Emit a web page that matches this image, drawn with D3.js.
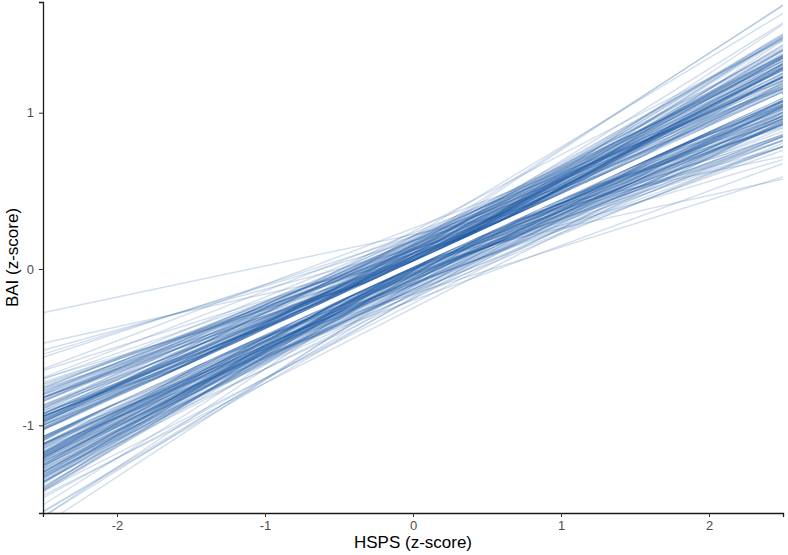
<!DOCTYPE html>
<html>
<head>
<meta charset="utf-8">
<script src="https://cdn.jsdelivr.net/npm/d3@7"></script>
<style>
  body { margin: 0; background: #fff; }
  text { font-family: "Liberation Sans", Arial, sans-serif; }
</style>
</head>
<body>
<div id="chart"></div>
<script>
// posterior draws: intercept and slope of each regression line
const intercepts = [
  0.03, 0.14, -0.07, 0.09, 0.00, -0.13, 0.18, 0.06, -0.04, 0.05,
  0.13, -0.09, 0.02, 0.21, -0.02, 0.08, -0.16, 0.04, 0.11, -0.05,
  -0.01, 0.16, 0.07, -0.10, 0.02, 0.19, -0.04, 0.10, 0.05, -0.19,
  0.08, 0.00, -0.11, 0.13, 0.03, -0.07, 0.26, 0.02, -0.03, 0.11,
  0.07, -0.14, 0.05, 0.15, -0.06, 0.01, 0.10, -0.22, 0.08, 0.02,
  -0.04, 0.18, 0.03, -0.10, 0.13, -0.01, 0.07, -0.09, 0.21, 0.05,
  0.00, -0.13, 0.10, 0.03, -0.03, 0.16, 0.08, -0.17, 0.02, 0.12,
  -0.07, 0.07, 0.24, -0.04, 0.03, 0.13, -0.12, 0.00, 0.08, 0.05,
  -0.06, 0.15, 0.02, -0.25, 0.10, 0.03, -0.01, 0.18, -0.09, 0.06,
  0.12, -0.03, 0.05, -0.15, 0.19, 0.01, 0.08, -0.06, 0.00, 0.13,
  -0.10, 0.05, 0.16, -0.01, -0.04, 0.10, 0.03, -0.20, 0.06, 0.12,
  0.01, -0.07, 0.15, 0.08, -0.13, 0.03, 0.22, -0.03, 0.05, 0.10,
  -0.08, 0.00, 0.13, 0.06, -0.16, 0.03, 0.18, -0.04, 0.08, -0.01,
  0.12, -0.11, 0.05, 0.21, 0.01, -0.06, 0.10, 0.06, -0.18, 0.00,
  0.15, 0.03, -0.10, 0.08, 0.04, 0.05, 0.01, 0.12, -0.03, 0.05,
  0.13, -0.09, 0.06, -0.02, 0.10, -0.05, 0.03, 0.16, -0.15, 0.14,
  0.05, -0.06, 0.12, 0.00, -0.10, 0.17, 0.02, 0.08, -0.03, 0.14,
  -0.13, 0.03, 0.07, -0.07, 0.18, -0.01, 0.10, -0.16, 0.05, 0.01,
  0.15, -0.04, 0.09, 0.23, -0.08, 0.03, 0.00, 0.12, -0.11, 0.06,
  0.02, 0.20, -0.05, 0.08, -0.01, -0.14, 0.14, 0.04, 0.17, -0.02,
  0.10, 0.03, -0.19, 0.06, 0.00, 0.15, -0.07, 0.09, 0.01, 0.21,
  -0.10, 0.12, 0.03, -0.04, 0.07, 0.18, -0.02, 0.10, -0.08, 0.05
];
const slopes = [
  0.39, 0.49, 0.44, 0.33, 0.52, 0.47, 0.41, 0.50, 0.36, 0.43,
  0.48, 0.35, 0.40, 0.57, 0.42, 0.46, 0.30, 0.45, 0.55, 0.38,
  0.60, 0.38, 0.41, 0.47, 0.32, 0.44, 0.53, 0.43, 0.37, 0.51,
  0.39, 0.40, 0.46, 0.26, 0.50, 0.42, 0.36, 0.54, 0.49, 0.45,
  0.44, 0.37, 0.58, 0.40, 0.52, 0.45, 0.34, 0.48, 0.56, 0.43,
  0.46, 0.29, 0.55, 0.41, 0.49, 0.38, 0.51, 0.42, 0.31, 0.47,
  0.37, 0.45, 0.59, 0.43, 0.35, 0.50, 0.48, 0.39, 0.53, 0.44,
  0.42, 0.40, 0.49, 0.54, 0.36, 0.44, 0.47, 0.28, 0.41, 0.52,
  0.43, 0.53, 0.33, 0.48, 0.45, 0.39, 0.63, 0.46, 0.34, 0.50,
  0.36, 0.46, 0.52, 0.40, 0.47, 0.31, 0.57, 0.44, 0.51, 0.38,
  0.37, 0.41, 0.61, 0.45, 0.39, 0.48, 0.49, 0.35, 0.42, 0.55,
  0.38, 0.42, 0.50, 0.43, 0.44, 0.56, 0.20, 0.34, 0.54, 0.47,
  0.48, 0.40, 0.49, 0.32, 0.45, 0.58, 0.41, 0.36, 0.46, 0.53,
  0.46, 0.59, 0.42, 0.39, 0.51, 0.47, 0.30, 0.43, 0.55, 0.37,
  0.43, 0.49, 0.38, 0.45, 0.50, 0.21, 0.41, 0.52, 0.44, 0.35,
  0.40, 0.62, 0.36, 0.44, 0.51, 0.39, 0.48, 0.42, 0.56, 0.62,
  0.41, 0.47, 0.38, 0.52, 0.44, 0.40, 0.55, 0.36, 0.46, 0.49,
  0.43, 0.34, 0.50, 0.45, 0.39, 0.53, 0.42, 0.48, 0.31, 0.57,
  0.44, 0.40, 0.51, 0.37, 0.46, 0.54, 0.42, 0.33, 0.49, 0.45,
  0.58, 0.41, 0.47, 0.39, 0.52, 0.43, 0.36, 0.50, 0.44, 0.48,
  0.35, 0.53, 0.45, 0.40, 0.56, 0.38, 0.47, 0.42, 0.51, 0.44,
  0.49, 0.37, 0.43, 0.55, 0.41, 0.46, 0.32, 0.50, 0.45, 0.39
];
// mean (fitted) line
const meanIntercept = 0.03;
const meanSlope = 0.433;

const xTicks = [-2, -1, 0, 1, 2];
const yTicks = [-1, 0, 1];
const xDomain = [-2.5, 2.5];

const width = 788, height = 555;
const margin = {top: 2, right: 5, bottom: 42, left: 43};

const svg = d3.select("#chart").append("svg")
    .attr("width", width)
    .attr("height", height);

const x = d3.scaleLinear()
    .domain(xDomain)
    .range([margin.left, width - margin.right]);

const y = d3.scaleLinear()
    .domain([-1.561, 1.708])
    .range([height - margin.bottom, margin.top]);

svg.append("clipPath")
    .attr("id", "clip")
    .append("rect")
    .attr("x", margin.left)
    .attr("y", margin.top)
    .attr("width", width - margin.left - margin.right)
    .attr("height", height - margin.top - margin.bottom);

const draws = intercepts.map((a, i) => ({a: a, b: slopes[i]}));

const plot = svg.append("g").attr("clip-path", "url(#clip)");

plot.selectAll("line.draw")
    .data(draws)
    .enter().append("line")
    .attr("class", "draw")
    .attr("x1", x(xDomain[0]))
    .attr("x2", x(xDomain[1]))
    .attr("y1", d => y(d.a + d.b * xDomain[0]))
    .attr("y2", d => y(d.a + d.b * xDomain[1]))
    .attr("stroke", "#1c58a4")
    .attr("stroke-opacity", 0.2)
    .attr("stroke-width", 1.4);

plot.append("line")
    .attr("x1", x(xDomain[0]))
    .attr("x2", x(xDomain[1]))
    .attr("y1", y(meanIntercept + meanSlope * xDomain[0]))
    .attr("y2", y(meanIntercept + meanSlope * xDomain[1]))
    .attr("stroke", "white")
    .attr("stroke-width", 4.5);

// axes
const xAxis = svg.append("g")
    .attr("transform", `translate(0,${height - margin.bottom})`)
    .call(d3.axisBottom(x).tickValues(xTicks).tickSize(4).tickPadding(4).tickFormat(d3.format("d")));

const yAxis = svg.append("g")
    .attr("transform", `translate(${margin.left},0)`)
    .call(d3.axisLeft(y).tickValues(yTicks).tickSize(4).tickPadding(5).tickFormat(d3.format("d")));

[xAxis, yAxis].forEach(g => {
    g.select(".domain").attr("stroke", "#1a1a1a").attr("stroke-width", 1.3);
    g.selectAll(".tick line").attr("stroke", "#333").attr("stroke-width", 1);
    g.selectAll(".tick text")
        .attr("fill", "#4d4d4d")
        .style("font-size", "13px")
        .text(d => d < 0 ? "-" + Math.abs(d) : d);
});

// axis titles
svg.append("text")
    .attr("x", (margin.left + width - margin.right) / 2)
    .attr("y", 548)
    .attr("text-anchor", "middle")
    .style("font-size", "17px")
    .attr("fill", "#000")
    .text("HSPS (z-score)");

svg.append("text")
    .attr("transform", `translate(18,${(margin.top + height - margin.bottom) / 2}) rotate(-90)`)
    .attr("text-anchor", "middle")
    .style("font-size", "17px")
    .attr("fill", "#000")
    .text("BAI (z-score)");
</script>
</body>
</html>
